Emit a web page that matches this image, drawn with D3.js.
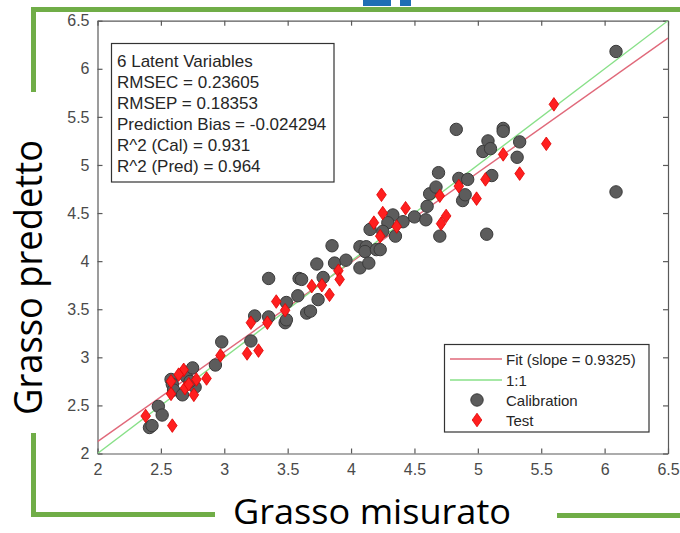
<!DOCTYPE html>
<html>
<head>
<meta charset="utf-8">
<script src="https://cdn.jsdelivr.net/npm/d3@7"></script>
<style>
  html, body { margin: 0; padding: 0; background: #fff; }
  svg { display: block; }
</style>
</head>
<body>
<svg id="chart" width="680" height="533"></svg>
<script>
// Measured vs predicted fat content (PLS model, 6 latent variables)
const xTicks = [2, 2.5, 3, 3.5, 4, 4.5, 5, 5.5, 6, 6.5];
const yTicks = [2, 2.5, 3, 3.5, 4, 4.5, 5, 5.5, 6, 6.5];

const calibration = [
  [2.41, 2.27], [2.43, 2.29], [2.48, 2.49], [2.51, 2.40],
  [2.58, 2.77], [2.59, 2.72], [2.60, 2.66], [2.67, 2.61], [2.70, 2.80],
  [2.75, 2.89], [2.77, 2.69], [2.73, 2.75],
  [2.93, 2.92], [2.98, 3.16], [3.21, 3.17], [3.24, 3.43], [3.35, 3.42],
  [3.35, 3.82], [3.48, 3.36], [3.49, 3.39], [3.49, 3.57],
  [3.58, 3.64], [3.59, 3.82], [3.61, 3.81], [3.65, 3.46], [3.68, 3.48],
  [3.73, 3.97], [3.74, 3.60], [3.78, 3.83], [3.85, 4.16], [3.87, 3.98], [3.96, 4.01],
  [4.07, 4.15], [4.12, 4.15], [4.11, 4.10], [4.20, 4.12], [4.07, 3.93],
  [4.14, 3.98], [4.15, 4.33],
  [4.33, 4.48], [4.29, 4.40], [4.41, 4.41], [4.25, 4.31], [4.35, 4.26], [4.23, 4.12],
  [4.50, 4.46], [4.59, 4.43], [4.60, 4.57], [4.62, 4.70], [4.67, 4.77],
  [4.69, 4.92], [4.70, 4.26], [4.83, 5.37], [4.85, 4.86], [4.88, 4.63],
  [4.90, 4.69], [4.92, 4.85], [5.04, 5.14], [5.07, 4.28], [5.08, 5.25],
  [5.10, 5.17], [5.11, 4.89], [5.20, 5.38], [5.20, 5.35], [5.31, 5.08],
  [5.33, 5.24], [6.09, 4.72], [6.09, 6.18]
];

const test = [
  [2.38, 2.39], [2.59, 2.29], [2.58, 2.62], [2.58, 2.75], [2.68, 2.87],
  [2.69, 2.68], [2.76, 2.61], [2.78, 2.77], [2.86, 2.78], [2.64, 2.82], [2.72, 2.72],
  [2.97, 3.02], [3.18, 3.04], [3.27, 3.07], [3.21, 3.36], [3.34, 3.36],
  [3.41, 3.58], [3.48, 3.49], [3.69, 3.74], [3.77, 3.75], [3.83, 3.65],
  [3.90, 3.90], [3.91, 3.81],
  [4.18, 4.40], [4.23, 4.26], [4.24, 4.69], [4.25, 4.50], [4.36, 4.36],
  [4.43, 4.55], [4.70, 4.68], [4.71, 4.39], [4.75, 4.47], [4.85, 4.78],
  [4.99, 4.65], [5.06, 4.85], [5.20, 5.11], [5.33, 4.91], [5.54, 5.22], [5.60, 5.63]
];

const fitSlope = 0.9325;
const fitIntercept = 0.258;

const statsLines = [
  "6 Latent Variables",
  "RMSEC = 0.23605",
  "RMSEP = 0.18353",
  "Prediction Bias = -0.024294",
  "R^2 (Cal) = 0.931",
  "R^2 (Pred) = 0.964"
];
const legendLabels = ["Fit (slope = 0.9325)", "1:1", "Calibration", "Test"];

const svg = d3.select("#chart");
const W = 680, H = 533;
const plot = { left: 97.5, right: 668, top: 20.7, bottom: 453.5 };

const x = d3.scaleLinear().domain([2, 6.5]).range([plot.left, plot.right]);
const y = d3.scaleLinear().domain([2, 6.5]).range([plot.bottom, plot.top]);

const GREEN = "#70ad47";
const BLUE = "#1f6fb4";

// slide decorations: green bracket frame and blue header fragments
const deco = svg.append("g");
deco.append("rect").attr("x", 363).attr("y", 0).attr("width", 28).attr("height", 6).attr("fill", BLUE);
deco.append("rect").attr("x", 400).attr("y", 0).attr("width", 11).attr("height", 6).attr("fill", BLUE);
deco.append("rect").attr("x", 31).attr("y", 7).attr("width", W - 31).attr("height", 5).attr("fill", GREEN);
deco.append("rect").attr("x", 31).attr("y", 7).attr("width", 5).attr("height", 85).attr("fill", GREEN);
deco.append("rect").attr("x", 31).attr("y", 433).attr("width", 5).attr("height", 84).attr("fill", GREEN);
deco.append("rect").attr("x", 31).attr("y", 512).attr("width", 184).attr("height", 5).attr("fill", GREEN);
deco.append("rect").attr("x", 557).attr("y", 513).attr("width", W - 557).attr("height", 5).attr("fill", GREEN);

// axes (MATLAB-style box with inward ticks)
const AX = "#5a5a5a";
const tickFont = "'Liberation Sans', Arial, sans-serif";

const fmt = d => String(d);
const gx = svg.append("g").attr("transform", `translate(0,${plot.bottom})`)
  .call(d3.axisBottom(x).tickValues(xTicks).tickFormat(fmt).tickSizeInner(-5).tickSizeOuter(0).tickPadding(10));
const gy = svg.append("g").attr("transform", `translate(${plot.left},0)`)
  .call(d3.axisLeft(y).tickValues(yTicks).tickFormat(fmt).tickSizeInner(-5).tickSizeOuter(0).tickPadding(8));
const gxTop = svg.append("g").attr("transform", `translate(0,${plot.top})`)
  .call(d3.axisTop(x).tickValues(xTicks).tickFormat("").tickSizeInner(-5).tickSizeOuter(0));
const gyRight = svg.append("g").attr("transform", `translate(${plot.right},0)`)
  .call(d3.axisRight(y).tickValues(yTicks).tickFormat("").tickSizeInner(-5).tickSizeOuter(0));

[gx, gy, gxTop, gyRight].forEach(g => {
  g.select(".domain").attr("stroke", AX).attr("stroke-width", 1.2);
  g.selectAll(".tick line").attr("stroke", AX).attr("stroke-width", 1.2);
  g.selectAll(".tick text").attr("fill", "#4a4a4a").style("font-family", tickFont).style("font-size", "16px");
});

// clip for the reference lines
svg.append("clipPath").attr("id", "plotClip").append("rect")
  .attr("x", plot.left).attr("y", plot.top)
  .attr("width", plot.right - plot.left).attr("height", plot.bottom - plot.top);

const lines = svg.append("g").attr("clip-path", "url(#plotClip)");
const lineGen = d3.line().x(d => x(d[0])).y(d => y(d[1]));
const xDom = x.domain();
lines.append("path")
  .attr("d", lineGen(xDom.map(v => [v, fitSlope * v + fitIntercept])))
  .attr("fill", "none").attr("stroke", "#e0697a").attr("stroke-width", 1.4);
lines.append("path")
  .attr("d", lineGen(xDom.map(v => [v, v])))
  .attr("fill", "none").attr("stroke", "#88e088").attr("stroke-width", 1.4);

// markers
const diamond = "M0,-6.8L4.8,0L0,6.8L-4.8,0Z";
const pts = svg.append("g");
pts.selectAll("circle.cal").data(calibration).join("circle")
  .attr("class", "cal")
  .attr("cx", d => x(d[0])).attr("cy", d => y(d[1])).attr("r", 6.2)
  .attr("fill", "#5c5c5c").attr("stroke", "#3a3a3a").attr("stroke-width", 1);
pts.selectAll("path.test").data(test).join("path")
  .attr("class", "test")
  .attr("d", diamond)
  .attr("transform", d => `translate(${x(d[0])},${y(d[1])})`)
  .attr("fill", "#ff1f1f").attr("stroke", "#e00000").attr("stroke-width", 0.8);

// statistics box
const sb = svg.append("g");
sb.append("rect").attr("x", 111.5).attr("y", 43.5).attr("width", 222.5).attr("height", 138.5)
  .attr("fill", "#fff").attr("stroke", "#333").attr("stroke-width", 1.2);
sb.selectAll("text").data(statsLines).join("text")
  .attr("x", 117).attr("y", (d, i) => 67 + i * 21)
  .attr("fill", "#262626")
  .style("font-family", tickFont).style("font-size", "17px")
  .text(d => d);

// legend
const lg = svg.append("g");
lg.append("rect").attr("x", 444.5).attr("y", 344.5).attr("width", 204.5).attr("height", 87.5)
  .attr("fill", "#fff").attr("stroke", "#333").attr("stroke-width", 1.2);
const rowY = [359, 380, 400, 420];
lg.append("line").attr("x1", 450).attr("x2", 502).attr("y1", rowY[0]).attr("y2", rowY[0])
  .attr("stroke", "#e0697a").attr("stroke-width", 1.4);
lg.append("line").attr("x1", 450).attr("x2", 502).attr("y1", rowY[1]).attr("y2", rowY[1])
  .attr("stroke", "#88e088").attr("stroke-width", 1.4);
lg.append("circle").attr("cx", 477).attr("cy", rowY[2]).attr("r", 6.2)
  .attr("fill", "#5c5c5c").attr("stroke", "#3a3a3a").attr("stroke-width", 1);
lg.append("path").attr("d", diamond).attr("transform", `translate(477,${rowY[3]})`)
  .attr("fill", "#ff1f1f").attr("stroke", "#e00000").attr("stroke-width", 0.8);
lg.selectAll("text").data(legendLabels).join("text")
  .attr("x", 506).attr("y", (d, i) => rowY[i] + 5.5)
  .attr("fill", "#262626")
  .style("font-family", tickFont).style("font-size", "15px")
  .text(d => d);

// axis titles
const titleFont = "'Open Sans', 'Noto Sans', sans-serif";
svg.append("text")
  .attr("x", 372).attr("y", 524)
  .attr("text-anchor", "middle")
  .attr("textLength", 278).attr("lengthAdjust", "spacingAndGlyphs")
  .style("font-family", titleFont).style("font-size", "35px").attr("fill", "#000")
  .text("Grasso misurato");
svg.append("text")
  .attr("transform", "translate(42,277.5) rotate(-90)")
  .attr("text-anchor", "middle")
  .attr("textLength", 275).attr("lengthAdjust", "spacingAndGlyphs")
  .style("font-family", titleFont).style("font-size", "38px").attr("fill", "#000")
  .text("Grasso predetto");
</script>
</body>
</html>
